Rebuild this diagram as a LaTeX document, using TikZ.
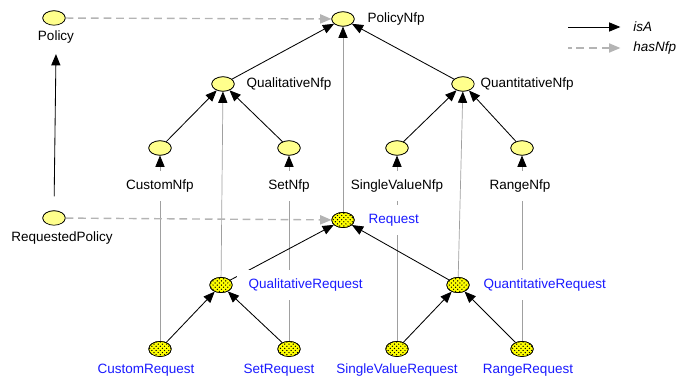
\documentclass[tikz,border=0pt]{standalone}
\usepackage{fontspec}
\setmainfont{Liberation Sans}
\usetikzlibrary{shapes.geometric,arrows.meta,patterns}

\definecolor{nfpyellow}{HTML}{FFFF8C}
\definecolor{reqyellow}{HTML}{FFFF00}
\definecolor{reqblue}{HTML}{1A1AFF}
\definecolor{linegray}{HTML}{A0A0A0}
\definecolor{dashgray}{HTML}{B4B4B4}

\tikzset{
  nfp/.style={ellipse, draw=black, line width=0.5pt, fill=nfpyellow,
    minimum width=0.56cm, minimum height=0.36cm, inner sep=0pt},
  req/.style={ellipse, draw=black, line width=0.5pt, preaction={fill=reqyellow},
    pattern=crosshatch dots, minimum width=0.56cm, minimum height=0.38cm, inner sep=0pt},
  lbl/.style={fill=white, font=\fontsize{9.6}{11}\selectfont, inner xsep=3pt, inner ysep=6.5pt},
  rlbl/.style={lbl, anchor=west, inner xsep=8pt},
  blue label/.style={text=reqblue},
  legendtext/.style={anchor=west, inner sep=0pt, font=\fontsize{9.6}{11}\selectfont\itshape},
  isa/.style={black, line width=0.6pt, -{Triangle[length=8pt,width=6.5pt]}},
  inst/.style={linegray, line width=0.5pt, -{Triangle[length=8pt,width=6.5pt,color=black]}},
  hasnfp/.style={dashgray, line width=1pt, dash pattern=on 5.5pt off 3.5pt,
    -{Triangle[length=8pt,width=6.5pt]}},
}

\begin{document}
\begin{tikzpicture}[x=0.025cm, y=-0.025cm]
\useasboundingbox (0,0) rectangle (683,380);

% ---- positions of the concepts
\coordinate (pPolicy) at (54,18);
\coordinate (pPolicyNfp) at (343,19);
\coordinate (pQualNfp) at (223,84);
\coordinate (pQuantNfp) at (463,84);
\coordinate (pCustomNfp) at (160,148);
\coordinate (pSetNfp) at (289,148);
\coordinate (pSingleNfp) at (397,148);
\coordinate (pRangeNfp) at (522,148);
\coordinate (pReqPolicy) at (54,218);
\coordinate (pRequest) at (343,220);
\coordinate (pQualReq) at (221,285);
\coordinate (pQuantReq) at (458,285);
\coordinate (pCustomReq) at (160,349);
\coordinate (pSetReq) at (289,349);
\coordinate (pSingleReq) at (397,349);
\coordinate (pRangeReq) at (522,349);

% ---- ellipses (placed first so they can be referenced, redrawn on top later)
\path
  node[nfp] (Policy) at (pPolicy) {}
  node[nfp] (PolicyNfp) at (pPolicyNfp) {}
  node[nfp] (QualNfp) at (pQualNfp) {}
  node[nfp] (QuantNfp) at (pQuantNfp) {}
  node[nfp] (CustomNfp) at (pCustomNfp) {}
  node[nfp] (SetNfp) at (pSetNfp) {}
  node[nfp] (SingleNfp) at (pSingleNfp) {}
  node[nfp] (RangeNfp) at (pRangeNfp) {}
  node[nfp] (ReqPolicy) at (pReqPolicy) {}
  node[req] (Request) at (pRequest) {}
  node[req] (QualReq) at (pQualReq) {}
  node[req] (QuantReq) at (pQuantReq) {}
  node[req] (CustomReq) at (pCustomReq) {}
  node[req] (SetReq) at (pSetReq) {}
  node[req] (SingleReq) at (pSingleReq) {}
  node[req] (RangeReq) at (pRangeReq) {};

% ---- grey links from each request concept to its property concept
\draw[inst] (CustomReq) -- (CustomNfp);
\draw[inst] (SetReq) -- (SetNfp);
\draw[inst] (SingleReq) -- (SingleNfp);
\draw[inst] (RangeReq) -- (RangeNfp);
\draw[inst] (QualReq) -- (QualNfp);
\draw[inst] (QuantReq) -- (QuantNfp);
\draw[inst] (Request) -- (PolicyNfp);

\draw[isa] (QualReq) -- (Request);

% ---- labels
\node[lbl] (lPolicy) at (56,37) {Policy};
\node[rlbl] (lPolicyNfp) at (356,19) {PolicyNfp};
\node[rlbl] (lQualNfp) at (235,84) {QualitativeNfp};
\node[rlbl] (lQuantNfp) at (469,84) {QuantitativeNfp};
\node[lbl] (lCustomNfp) at (160,186) {CustomNfp};
\node[lbl] (lSetNfp) at (289,186) {SetNfp};
\node[lbl] (lSingleNfp) at (397,186) {SingleValueNfp};
\node[lbl] (lRangeNfp) at (520,186) {RangeNfp};
\node[lbl] (lReqPolicy) at (62,238) {RequestedPolicy};
\node[rlbl, blue label] (lRequest) at (357,220) {Request};
\node[rlbl, blue label] (lQualReq) at (237,285) {QualitativeRequest};
\node[rlbl, blue label] (lQuantReq) at (472,285) {QuantitativeRequest};
\node[lbl, blue label] (lCustomReq) at (146,370) {CustomRequest};
\node[lbl, blue label] (lSetReq) at (279,370) {SetRequest};
\node[lbl, blue label] (lSingleReq) at (397,370) {SingleValueRequest};
\node[lbl, blue label] (lRangeReq) at (528,370) {RangeRequest};

% ---- ellipses on top of the label boxes
\path
  node[nfp] at (pPolicy) {}
  node[nfp] at (pPolicyNfp) {}
  node[nfp] at (pQualNfp) {}
  node[nfp] at (pQuantNfp) {}
  node[nfp] at (pCustomNfp) {}
  node[nfp] at (pSetNfp) {}
  node[nfp] at (pSingleNfp) {}
  node[nfp] at (pRangeNfp) {}
  node[nfp] at (pReqPolicy) {}
  node[req] at (pRequest) {}
  node[req] at (pQualReq) {}
  node[req] at (pQuantReq) {}
  node[req] at (pCustomReq) {}
  node[req] at (pSetReq) {}
  node[req] at (pSingleReq) {}
  node[req] at (pRangeReq) {};

% ---- isA hierarchy
\draw[isa] (QualNfp) -- (PolicyNfp);
\draw[isa] (QuantNfp) -- (PolicyNfp);
\draw[isa] (CustomNfp) -- (QualNfp);
\draw[isa] (SetNfp) -- (QualNfp);
\draw[isa] (SingleNfp) -- (QuantNfp);
\draw[isa] (RangeNfp) -- (QuantNfp);
\draw[isa] (QuantReq) -- (Request);
\draw[isa] (CustomReq) -- (QualReq);
\draw[isa] (SetReq) -- (QualReq);
\draw[isa] (SingleReq) -- (QuantReq);
\draw[isa] (RangeReq) -- (QuantReq);
\draw[isa, shorten <=0.35cm, shorten >=1pt] (ReqPolicy.north) -- (lPolicy.south);

% ---- hasNfp
\draw[hasnfp] (Policy) -- (PolicyNfp);
\draw[hasnfp] (ReqPolicy) -- (Request);

% ---- legend
\coordinate (isAstart) at (568,27);
\coordinate (hasNfpstart) at (568,48);
\node[legendtext] (isAlbl) at (633,27) {isA};
\node[legendtext] (hasNfplbl) at (633,48) {hasNfp};
\draw[isa, shorten >=9pt] (isAstart) -- (isAlbl.west);
\draw[hasnfp, shorten >=9pt, dash phase=3pt] (hasNfpstart) -- (hasNfplbl.west);
\end{tikzpicture}
\end{document}
